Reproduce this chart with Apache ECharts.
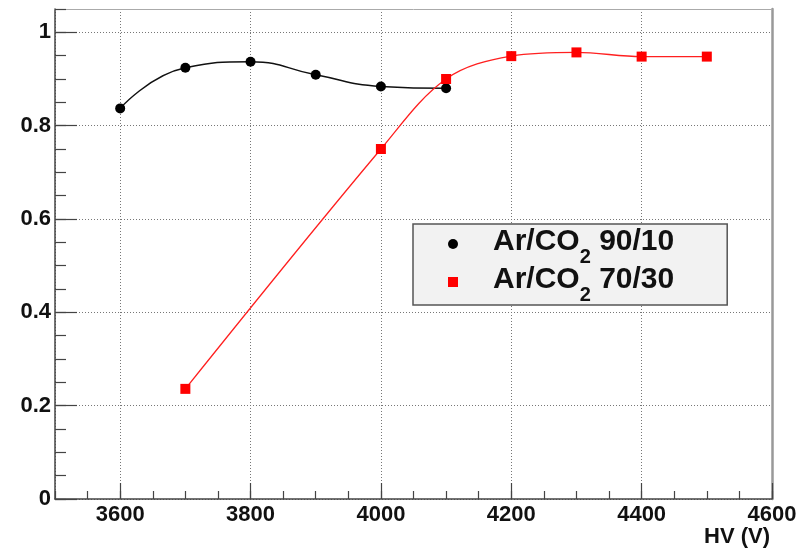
<!DOCTYPE html>
<html>
<head>
<meta charset="utf-8">
<script src="https://cdn.jsdelivr.net/npm/echarts@6/dist/echarts.min.js"></script>
<style>html,body{margin:0;padding:0;background:#fff;}#c{width:797px;height:552px;}</style>
</head>
<body>
<div id="c"></div>
<script>
// ---- data ----
const hvBlack = [3600, 3700, 3800, 3900, 4000, 4100];
const effBlack = [0.837, 0.924, 0.937, 0.909, 0.884, 0.880];
const hvRed = [3700, 4000, 4100, 4200, 4300, 4400, 4500];
const effRed = [0.236, 0.750, 0.900, 0.949, 0.957, 0.948, 0.948];
const seriesNames = ['Ar/CO2 90/10', 'Ar/CO2 70/30'];
const legendHead = ['Ar/CO', 'Ar/CO'];
const legendSub = ['2', '2'];
const legendTail = [' 90/10', ' 70/30'];
const xTitle = 'HV (V)';
const xMin = 3500, xMax = 4600, yMin = 0, yMax = 1.05;

const font = '"Liberation Sans", Arial, Helvetica, sans-serif';
const pairs = (xs, ys) => xs.map((x, i) => [x, ys[i]]);

const chart = echarts.init(document.getElementById('c'), null, {renderer: 'canvas'});

const option = {
  animation: false,
  backgroundColor: '#ffffff',
  title: {
    text: xTitle, right: 27, top: 526, padding: 0,
    textStyle: {fontFamily: font, fontSize: 22, fontWeight: 'bold', color: '#111'}
  },
  grid: {left: 55, top: 9, right: 25, bottom: 53, containLabel: false, outerBoundsMode: 'none'},
  xAxis: [
    {
      type: 'value', min: xMin, max: xMax, splitNumber: 5, position: 'bottom',
      axisLine: {onZero: false, lineStyle: {color: '#444', width: 1.5}},
      axisTick: {inside: true, length: 16, lineStyle: {color: '#444', width: 1.2}},
      axisLabel: {showMinLabel: false, formatter: v => String(v), fontFamily: font, fontSize: 22, fontWeight: 'bold', color: '#111', margin: 5},
      splitLine: {show: true, lineStyle: {color: '#777', width: 1, type: [1, 2]}}
    },
    {
      type: 'value', min: xMin, max: xMax, interval: 50, position: 'bottom',
      axisLine: {show: false, onZero: false},
      axisTick: {inside: true, length: 8, lineStyle: {color: '#444', width: 1.2}},
      axisLabel: {show: false}, splitLine: {show: false}
    },
    {
      type: 'value', min: xMin, max: xMax, position: 'top',
      axisLine: {show: true, onZero: false, lineStyle: {color: '#aaa', width: 1}},
      axisTick: {show: false}, axisLabel: {show: false}, splitLine: {show: false}
    }
  ],
  yAxis: [
    {
      type: 'value', min: yMin, max: yMax, interval: 0.2, position: 'left',
      axisLine: {show: true, onZero: false, lineStyle: {color: '#444', width: 1.5}},
      axisTick: {show: true, inside: true, length: 22, lineStyle: {color: '#444', width: 1.2}},
      axisLabel: {showMaxLabel: false, fontFamily: font, fontSize: 22, fontWeight: 'bold', color: '#111', margin: 4},
      splitLine: {show: true, lineStyle: {color: '#777', width: 1, type: [1, 2]}}
    },
    {
      type: 'value', min: yMin, max: yMax, interval: 0.05, position: 'left',
      axisLine: {show: false, onZero: false},
      axisTick: {show: true, inside: true, length: 11, lineStyle: {color: '#444', width: 1.2}},
      axisLabel: {show: false}, splitLine: {show: false}
    },
    {
      type: 'value', min: yMin, max: yMax, position: 'right',
      axisLine: {show: true, onZero: false, lineStyle: {color: '#999', width: 2.5}},
      axisTick: {show: false}, axisLabel: {show: false}, splitLine: {show: false}
    }
  ],
  legend: {
    orient: 'vertical', left: 413, top: 224,
    padding: [3, 53, 0, 35], itemGap: -2,
    itemWidth: 10, itemHeight: 10,
    backgroundColor: '#f2f2f2', borderColor: '#555', borderWidth: 1.5,
    data: [{name: seriesNames[0], icon: 'circle'}, {name: seriesNames[1], icon: 'rect'}],
    formatter: function (name) {
      const i = seriesNames.indexOf(name);
      return '{t|' + legendHead[i] + '}{s|' + legendSub[i] + '}{t|' + legendTail[i] + '}';
    },
    textStyle: {
      padding: [0, 0, 6, 30],
      rich: {
        t: {fontFamily: font, fontSize: 30, fontWeight: 'bold', color: '#111', lineHeight: 28, verticalAlign: 'top'},
        s: {fontFamily: font, fontSize: 20, fontWeight: 'bold', color: '#111', lineHeight: 12, padding: [20, 0, 0, 0], verticalAlign: 'top'}
      }
    }
  },
  series: [
    {
      name: seriesNames[0], type: 'line', xAxisIndex: 0, yAxisIndex: 0,
      data: pairs(hvBlack, effBlack), smooth: 0.5,
      symbol: 'circle', symbolSize: 10,
      itemStyle: {color: '#000'}, lineStyle: {color: '#111', width: 1.5}, z: 3
    },
    {
      name: seriesNames[1], type: 'line', xAxisIndex: 0, yAxisIndex: 0,
      data: pairs(hvRed, effRed), smooth: 0.35,
      symbol: 'rect', symbolSize: 10,
      itemStyle: {color: '#ff0000'}, lineStyle: {color: '#ff2020', width: 1.3}, z: 4
    }
  ]
};
chart.setOption(option);
</script>
</body>
</html>
